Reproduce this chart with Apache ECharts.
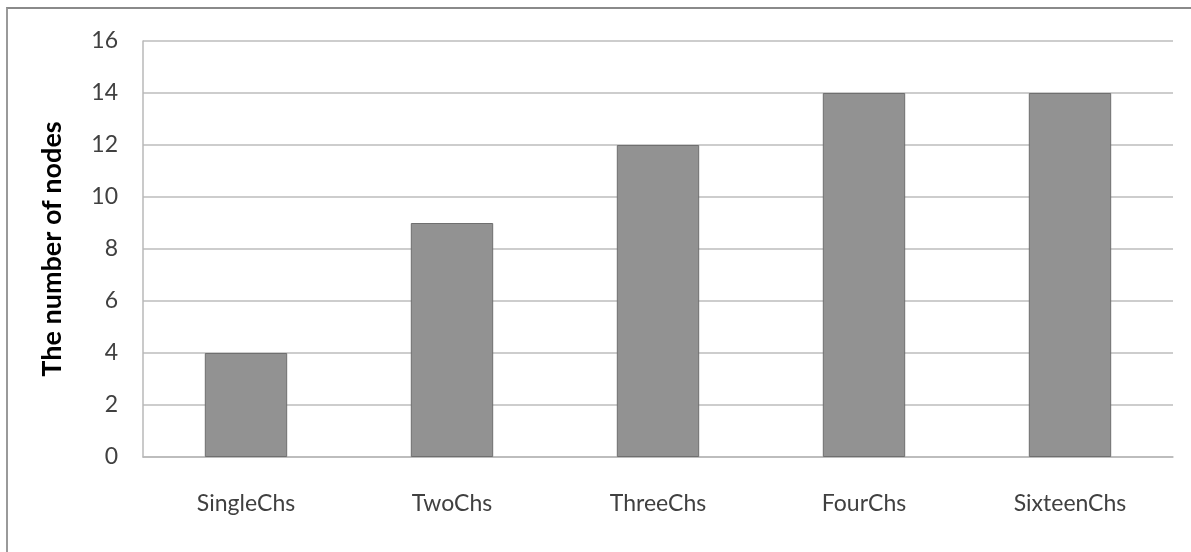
<!DOCTYPE html>
<html>
<head>
<meta charset="utf-8">
<script src="https://cdn.jsdelivr.net/npm/echarts@6/dist/echarts.min.js"></script>
<style>
  html, body { margin: 0; padding: 0; background: #fff; }
  #frame { position: absolute; left: 6px; top: 7px; width: 1185px; height: 545px;
           border-left: 2px solid #9a9a9a; border-top: 2px solid #8a8a8a; box-sizing: border-box; }
  #chart { position: absolute; left: 0; top: 0; width: 1191px; height: 552px; }
</style>
</head>
<body>
<div id="frame"></div>
<div id="chart"></div>
<script>
// Nodes per channel configuration
const categories = ['SingleChs', 'TwoChs', 'ThreeChs', 'FourChs', 'SixteenChs'];
const nodeCounts = [4, 9, 12, 14, 14];
const yAxisName = 'The number of nodes';

const chart = echarts.init(document.getElementById('chart'), null, { renderer: 'canvas' });

chart.setOption({
  animation: false,
  backgroundColor: 'transparent',
  grid: { left: 143, right: 18, top: 41, bottom: 95, containLabel: false },
  xAxis: {
    type: 'category',
    data: categories,
    axisLine: { show: true, lineStyle: { color: '#b8b8b8', width: 1.5 } },
    axisTick: { show: false },
    axisLabel: { color: '#404040', fontFamily: 'Lato', fontSize: 23, margin: 35 }
  },
  yAxis: {
    type: 'value',
    min: 0, max: 16, interval: 2,
    name: yAxisName,
    nameLocation: 'middle',
    nameGap: 77,
    nameTextStyle: { color: '#000', fontFamily: 'Lato', fontWeight: 'bold', fontSize: 27 },
    axisLine: { show: true, lineStyle: { color: '#b8b8b8', width: 1.5 } },
    axisTick: { show: false },
    axisLabel: { color: '#404040', fontFamily: 'Lato', fontSize: 23, margin: 25 },
    splitLine: { show: true, lineStyle: { color: '#bdbdbd', width: 1.5 } }
  },
  series: [{
    type: 'bar',
    data: nodeCounts,
    barWidth: '40%',
    itemStyle: { color: '#929292', borderColor: '#6f6f6f', borderWidth: 1 }
  }]
});
</script>
</body>
</html>
